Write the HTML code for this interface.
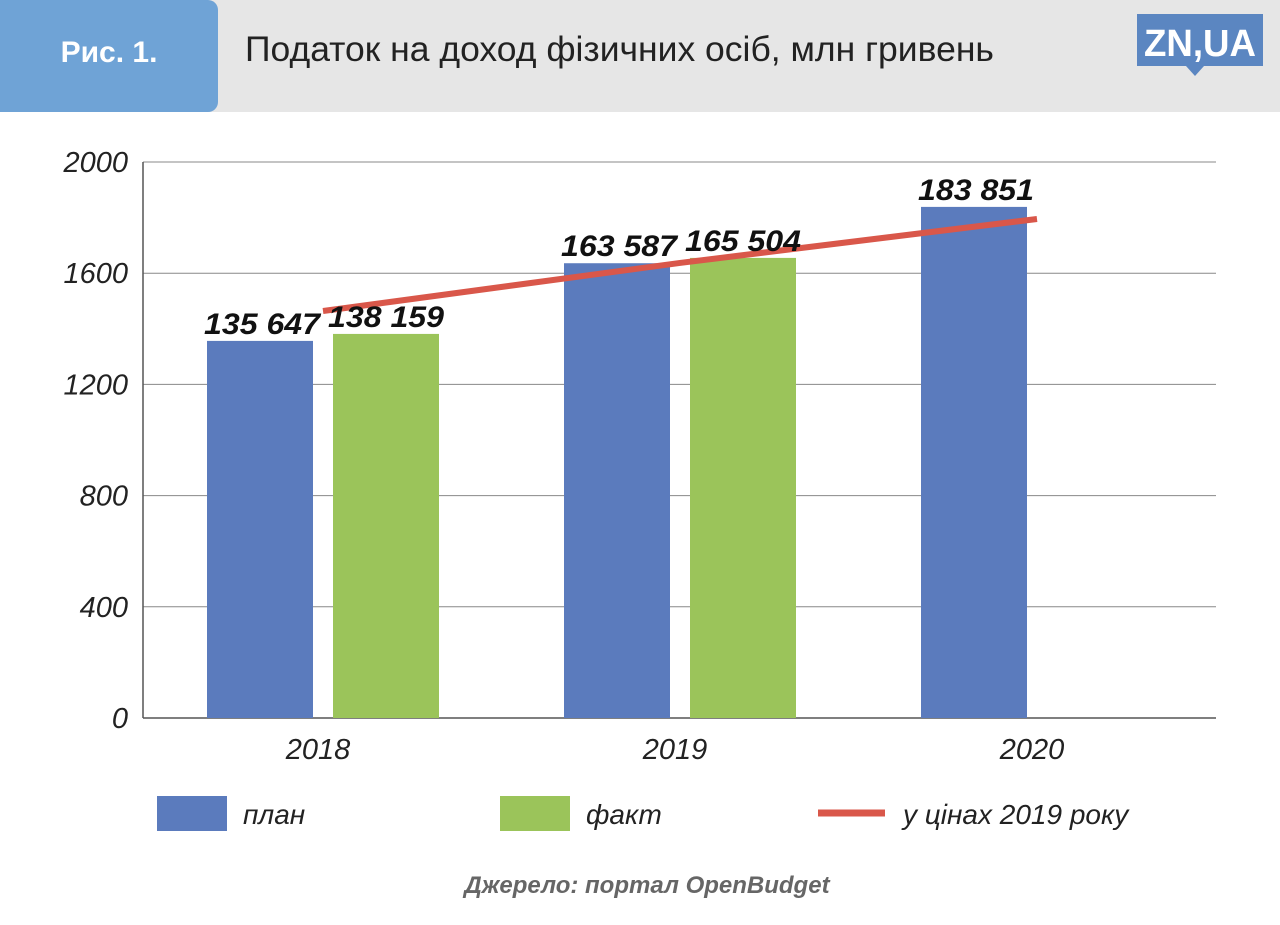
<!DOCTYPE html>
<html><head><meta charset="utf-8"><style>
body{margin:0;width:1280px;height:925px;background:#fff;position:relative;overflow:hidden;font-family:"Liberation Sans",sans-serif}
.hdr{position:absolute;left:0;top:0;width:1280px;height:112px;background:#e6e6e6}
.tab{position:absolute;left:0;top:0;width:218px;height:112px;background:#6fa3d6;border-radius:0 10px 10px 0;color:#fff;font-weight:bold;font-size:30px;line-height:106px;text-align:center}
.title{position:absolute;left:245px;top:29px;font-size:35.5px;color:#222}
</style></head><body>
<div class="hdr"></div>
<div class="tab">Рис. 1.</div>
<div class="title">Податок на доход фізичних осіб, млн гривень</div>
<svg width="1280" height="925" style="position:absolute;left:0;top:0">
<g>
<rect x="1137" y="14" width="126" height="52" fill="#5b86c1"/>
<polygon points="1186,66 1204,66 1195,76" fill="#5b86c1"/>
<text x="1200" y="56" text-anchor="middle" font-family="Liberation Sans" font-weight="bold" font-size="38" fill="#fff" textLength="112" lengthAdjust="spacingAndGlyphs">ZN,UA</text>
</g>
<g id="grid"></g><g id="bars"></g><g id="line"></g><g id="labels"></g>
<g>
<rect x="157" y="796" width="70" height="35" fill="#5b7bbd"/>
<text x="243" y="824" font-size="28" font-style="italic" fill="#222">план</text>
<rect x="500" y="796" width="70" height="35" fill="#9bc45a"/>
<text x="586" y="824" font-size="28" font-style="italic" fill="#222">факт</text>
<line x1="818" y1="813" x2="885" y2="813" stroke="#d9574a" stroke-width="7"/>
<text x="903" y="824" font-size="28" font-style="italic" fill="#222">у цінах 2019 року</text>
</g>
<text x="647" y="893" text-anchor="middle" font-size="24" font-weight="bold" font-style="italic" fill="#666">Джерело: портал OpenBudget</text>
</svg>
<script>
const categories=["2018","2019","2020"];
const plan=[135647,163587,183851];
const fact=[138159,165504,null];
const real=[1464,1637,1795];
const yTicks=[0,400,800,1200,1600,2000];
const NS="http://www.w3.org/2000/svg";
function y(v){return 718-v*(556/2000);}
function cx(i){return 323+i*357;}
function mk(p,t,a,txt){const e=document.createElementNS(NS,t);for(const k in a)e.setAttribute(k,a[k]);if(txt!=null)e.textContent=txt;document.getElementById(p).appendChild(e);return e;}
yTicks.forEach(t=>{
 const l=mk("grid","line",{x1:143,x2:1216,y1:y(t),y2:y(t),stroke:t===0?"#555":"#888","stroke-width":t===0?1.5:1});
 
 
 const tx=mk("grid","text",{x:128,y:y(t)+10,"text-anchor":"end","font-size":29,"font-style":"italic",fill:"#222"},t);
 
 
});
const ax=mk("grid","line",{x1:143,x2:143,y1:162,y2:718,stroke:"#555","stroke-width":1.5});


function fmt(v){const s=String(v);return s.slice(0,s.length-3)+" "+s.slice(-3);}
categories.forEach((c,i)=>{
 const pv=plan[i]/100;
 const b=mk("bars","rect",{x:cx(i)-116,y:y(pv),width:106,height:718-y(pv),fill:"#5b7bbd"});
 
 
 const t=mk("labels","text",{x:cx(i)-61,y:y(pv)-7,"text-anchor":"middle","font-size":30,"font-weight":"bold","font-style":"italic",fill:"#111",textLength:116,lengthAdjust:"spacingAndGlyphs"},fmt(plan[i]));
 
 
 if(fact[i]!=null){
  const fv=fact[i]/100;
  const f=mk("bars","rect",{x:cx(i)+10,y:y(fv),width:106,height:718-y(fv),fill:"#9bc45a"});
  
  
  const ft=mk("labels","text",{x:cx(i)+63,y:y(fv)-7,"text-anchor":"middle","font-size":30,"font-weight":"bold","font-style":"italic",fill:"#111",textLength:116,lengthAdjust:"spacingAndGlyphs"},fmt(fact[i]));
  
  
 }
 const xl=mk("labels","text",{x:cx(i)-5,y:759,"text-anchor":"middle","font-size":29,"font-style":"italic",fill:"#222"},c);
 
 
});
const pl=mk("line","polyline",{points:real.map((v,i)=>cx(i)+","+y(v)).join(" "),fill:"none",stroke:"#d9574a","stroke-width":6});


</script>
</body></html>
